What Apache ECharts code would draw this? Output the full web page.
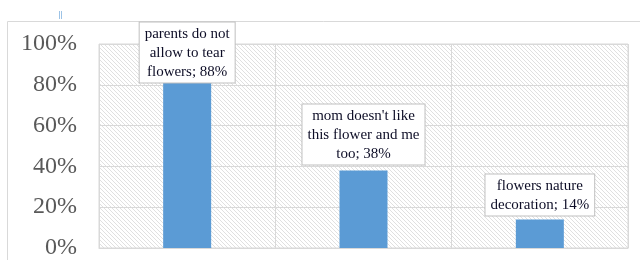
<!DOCTYPE html>
<html>
<head>
<meta charset="utf-8">
<script src="https://cdn.jsdelivr.net/npm/echarts@6/dist/echarts.min.js"></script>
<style>
  html, body { margin: 0; padding: 0; background: #fff; }
  #chart { width: 640px; height: 260px; }
</style>
</head>
<body>
<div id="chart"></div>
<script>
// data
var categories = ['parents do not\nallow to tear\nflowers', 'mom doesn\'t like\nthis flower and me\ntoo', 'flowers nature\ndecoration'];
var values = [88, 38, 14];
var yTicks = [0, 20, 40, 60, 80, 100];
var labelDistance = [-14, 6, 4];

var serif = '"Liberation Serif", "DejaVu Serif", serif';

// hatched plot background
function hatch() {
  var c = document.createElement('canvas');
  c.width = 4; c.height = 4;
  var ctx = c.getContext('2d');
  ctx.fillStyle = '#ffffff';
  ctx.fillRect(0, 0, 4, 4);
  ctx.strokeStyle = '#e0e0e0';
  ctx.lineWidth = 1;
  ctx.beginPath();
  ctx.moveTo(-1, -1); ctx.lineTo(5, 5);
  ctx.moveTo(-1, 3); ctx.lineTo(1, 5);
  ctx.moveTo(3, -1); ctx.lineTo(5, 1);
  ctx.stroke();
  return c;
}

var chart = echarts.init(document.getElementById('chart'));
chart.setOption({
  animation: false,
  graphic: [
    { type: 'polyline', shape: { points: [[7.5, 260], [7.5, 21.5], [640, 21.5]] },
      style: { stroke: '#d9d9d9', fill: null, lineWidth: 1 } },
    { type: 'line', shape: { x1: 59.5, y1: 11, x2: 59.5, y2: 19 }, style: { stroke: '#9dc3e6', lineWidth: 1 } },
    { type: 'line', shape: { x1: 61.5, y1: 11, x2: 61.5, y2: 19 }, style: { stroke: '#9dc3e6', lineWidth: 1 } }
  ],
  grid: {
    left: 99, right: 12, top: 44, bottom: 12,
    show: true,
    borderColor: '#d9d9d9',
    borderWidth: 1,
    backgroundColor: { image: hatch(), repeat: 'repeat' }
  },
  xAxis: {
    type: 'category',
    data: categories,
    axisLine: { lineStyle: { color: '#d9d9d9' } },
    axisTick: { show: false },
    axisLabel: { show: false },
    splitLine: { show: true, lineStyle: { color: '#d9d9d9' } }
  },
  yAxis: {
    type: 'value',
    min: 0, max: 100, interval: 20,
    axisLine: { show: false },
    axisTick: { show: false },
    splitLine: { lineStyle: { color: '#d9d9d9' } },
    axisLabel: {
      margin: 22,
      color: '#595959',
      fontFamily: serif,
      fontSize: 24,
      formatter: function (v) { return yTicks.indexOf(v) >= 0 ? v + '%' : ''; }
    }
  },
  series: [{
    type: 'bar',
    barWidth: 48,
    itemStyle: { color: '#5b9bd5' },
    data: values.map(function (v, i) {
      return {
        value: v,
        label: { distance: labelDistance[i] }
      };
    }),
    label: {
      show: true,
      position: 'top',
      formatter: function (p) { return p.name + '; ' + p.value + '%'; },
      fontFamily: serif,
      fontSize: 15,
      lineHeight: 19,
      color: '#0d0d26',
      backgroundColor: '#fff',
      borderColor: '#bfbfbf',
      borderWidth: 1,
      padding: [2, 5, 1, 5],
      align: 'center'
    }
  }]
});
</script>
</body>
</html>
